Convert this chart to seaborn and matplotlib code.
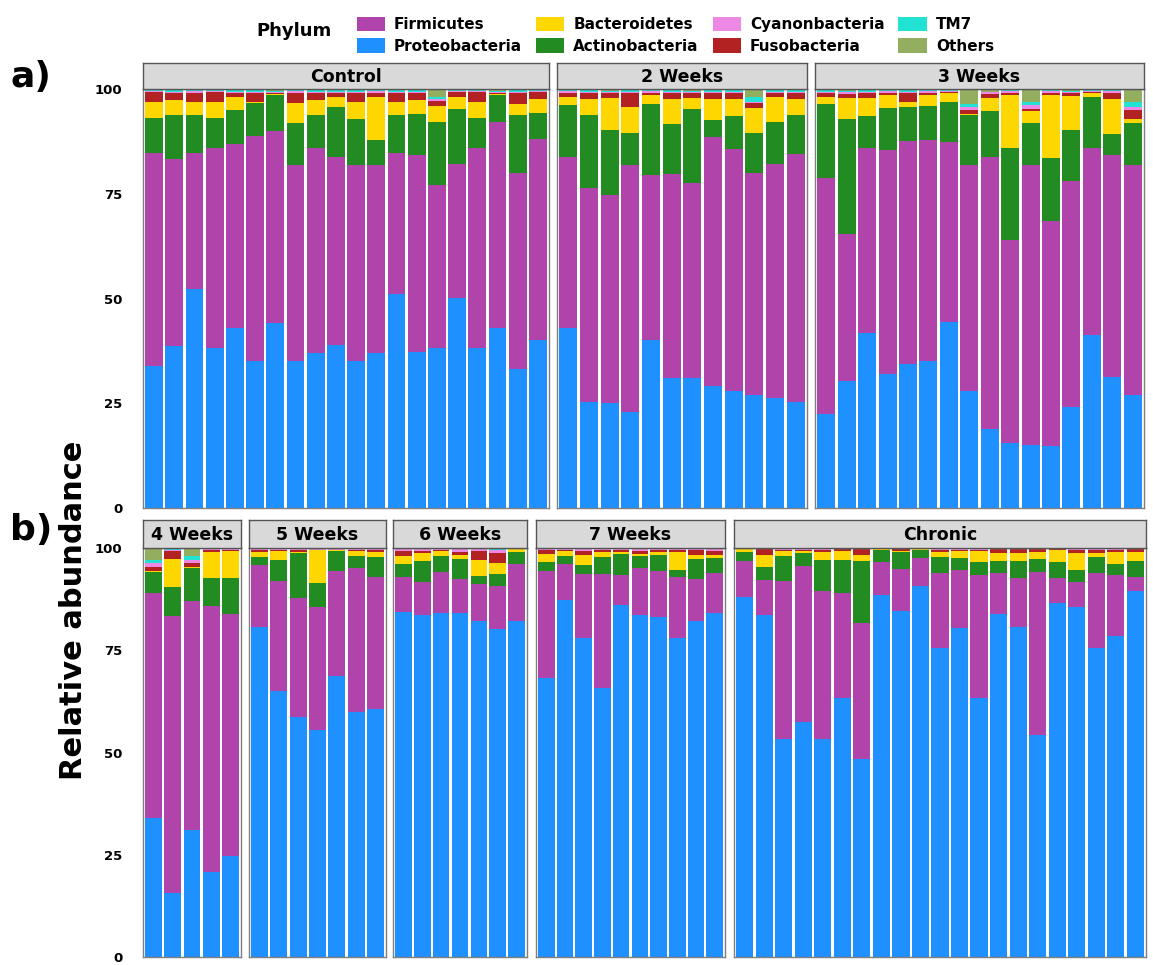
import pandas as pd
import seaborn as sns
import matplotlib.pyplot as plt
from matplotlib.patches import Patch

sns.set_style("white")
plt.rcParams["font.family"] = ["DejaVu Sans"]
plt.rcParams["text.color"] = "black"
plt.rcParams["ytick.color"] = "black"

W, H = 1153, 965

palette = {
    "Firmicutes": "#B044AA",
    "Proteobacteria": "#1E90FF",
    "Bacteroidetes": "#FFD700",
    "Actinobacteria": "#228B22",
    "Cyanonbacteria": "#EE88E6",
    "Fusobacteria": "#B22222",
    "TM7": "#22E2D4",
    "Others": "#93AE5E",
}
legend_order = ["Firmicutes", "Proteobacteria", "Bacteroidetes", "Actinobacteria",
                "Cyanonbacteria", "Fusobacteria", "TM7", "Others"]
# first level ends up on top of the stack in seaborn
stack_order = ["Others", "TM7", "Cyanonbacteria", "Fusobacteria",
               "Bacteroidetes", "Actinobacteria", "Firmicutes", "Proteobacteria"]

control = {
    "Proteobacteria": [34.0, 38.6, 52.2, 38.2, 43.0, 35.0, 44.2, 35.0, 37.0, 39.0, 35.0, 37.0, 51.0, 37.2, 38.2, 50.2, 38.2, 43.0, 33.2, 40.2],
    "Firmicutes": [50.8, 44.8, 32.6, 47.8, 43.9, 53.9, 45.8, 46.8, 49.0, 44.8, 46.8, 44.9, 33.8, 47.0, 38.8, 31.8, 47.8, 49.1, 46.8, 47.8],
    "Actinobacteria": [8.2, 10.4, 9.0, 7.0, 8.1, 7.8, 8.6, 10.2, 7.8, 12.0, 11.1, 6.0, 9.0, 9.8, 15.1, 13.2, 7.0, 6.5, 13.8, 6.2],
    "Bacteroidetes": [4.0, 3.6, 3.1, 4.0, 3.0, 0.2, 0.3, 4.6, 3.6, 2.2, 4.0, 10.2, 3.1, 3.4, 3.8, 3.0, 4.0, 0.3, 2.7, 3.4],
    "Fusobacteria": [2.2, 1.6, 2.2, 2.2, 1.0, 2.1, 0.2, 2.5, 1.6, 1.0, 2.1, 1.0, 2.1, 1.6, 1.2, 1.0, 2.2, 0.2, 2.5, 1.6],
    "Cyanonbacteria": [0.3, 0.4, 0.4, 0.3, 0.4, 0.4, 0.2, 0.4, 0.4, 0.4, 0.4, 0.4, 0.4, 0.4, 0.5, 0.3, 0.3, 0.3, 0.4, 0.3],
    "TM7": [0.2, 0.3, 0.2, 0.2, 0.3, 0.3, 0.2, 0.2, 0.3, 0.3, 0.3, 0.2, 0.3, 0.3, 0.4, 0.2, 0.2, 0.2, 0.3, 0.2],
    "Others": [0.3, 0.3, 0.3, 0.3, 0.3, 0.3, 0.6, 0.3, 0.3, 0.3, 0.3, 0.3, 0.3, 0.3, 2.0, 0.3, 0.3, 0.4, 0.3, 0.3],
}

weeks2 = {
    "Proteobacteria": [43.0, 25.4, 25.0, 22.8, 40.2, 31.0, 31.0, 29.2, 28.0, 27.0, 26.2, 25.4],
    "Firmicutes": [40.8, 51.0, 49.6, 59.0, 39.3, 48.6, 46.6, 59.4, 57.6, 53.0, 56.0, 59.0],
    "Actinobacteria": [12.4, 17.4, 15.6, 7.8, 17.0, 12.0, 17.6, 4.0, 8.0, 9.4, 10.0, 9.4],
    "Bacteroidetes": [1.9, 3.9, 7.6, 6.0, 2.0, 6.0, 2.6, 5.0, 4.0, 6.0, 6.0, 3.9],
    "Fusobacteria": [1.0, 1.3, 1.2, 3.4, 0.6, 1.4, 1.2, 1.4, 1.4, 1.2, 0.8, 1.3],
    "Cyanonbacteria": [0.4, 0.4, 0.4, 0.4, 0.4, 0.4, 0.4, 0.4, 0.4, 0.4, 0.4, 0.4],
    "TM7": [0.2, 0.3, 0.2, 0.3, 0.2, 0.3, 0.2, 0.3, 0.3, 1.2, 0.3, 0.3],
    "Others": [0.3, 0.3, 0.4, 0.3, 0.3, 0.3, 0.4, 0.3, 0.3, 1.8, 0.3, 0.3],
}

weeks3 = {
    "Proteobacteria": [22.4, 30.4, 41.8, 32.0, 34.4, 35.0, 44.4, 28.0, 18.8, 15.4, 15.0, 14.8, 24.0, 41.2, 31.2, 27.0],
    "Firmicutes": [56.4, 35.0, 44.2, 53.4, 53.2, 52.8, 43.0, 53.8, 65.0, 48.5, 66.8, 53.8, 54.0, 44.8, 53.1, 54.8],
    "Actinobacteria": [17.6, 27.5, 7.6, 10.0, 8.2, 8.2, 9.6, 12.0, 11.0, 21.9, 10.0, 14.9, 12.2, 12.0, 5.0, 10.1],
    "Bacteroidetes": [1.6, 5.0, 4.2, 3.2, 1.0, 2.6, 2.1, 0.3, 3.0, 12.8, 3.0, 15.0, 8.2, 1.0, 8.4, 1.0],
    "Fusobacteria": [1.0, 1.0, 1.2, 0.5, 2.2, 0.5, 0.2, 1.0, 1.0, 0.5, 0.5, 0.6, 0.6, 0.2, 1.4, 2.1],
    "Cyanonbacteria": [0.4, 0.4, 0.4, 0.4, 0.4, 0.4, 0.3, 0.6, 0.4, 0.4, 0.8, 0.4, 0.4, 0.3, 0.4, 0.8],
    "TM7": [0.3, 0.3, 0.3, 0.2, 0.3, 0.2, 0.2, 0.8, 0.2, 0.2, 0.8, 0.2, 0.2, 0.2, 0.2, 1.0],
    "Others": [0.3, 0.4, 0.3, 0.3, 0.3, 0.3, 0.2, 3.5, 0.6, 0.3, 3.1, 0.3, 0.4, 0.3, 0.3, 3.2],
}

weeks4 = {
    "Proteobacteria": [33.9, 15.7, 31.0, 20.7, 24.7],
    "Firmicutes": [55.1, 67.7, 56.0, 65.1, 59.2],
    "Actinobacteria": [5.1, 7.1, 8.0, 6.8, 8.8],
    "Bacteroidetes": [0.3, 6.7, 0.4, 6.5, 6.6],
    "Fusobacteria": [1.0, 2.0, 1.0, 0.3, 0.3],
    "Cyanonbacteria": [0.9, 0.3, 0.6, 0.3, 0.2],
    "TM7": [0.8, 0.2, 1.0, 0.2, 0.1],
    "Others": [2.9, 0.3, 2.0, 0.1, 0.1],
}

weeks5 = {
    "Proteobacteria": [80.7, 65.0, 58.8, 55.6, 68.8, 59.9, 60.7],
    "Firmicutes": [15.2, 27.0, 29.0, 30.0, 25.5, 35.3, 32.2],
    "Actinobacteria": [2.0, 5.0, 10.9, 5.9, 4.9, 2.9, 5.0],
    "Bacteroidetes": [1.2, 2.3, 0.4, 7.9, 0.3, 1.1, 1.2],
    "Fusobacteria": [0.3, 0.2, 0.3, 0.2, 0.1, 0.2, 0.3],
    "Cyanonbacteria": [0.3, 0.3, 0.3, 0.2, 0.2, 0.3, 0.3],
    "TM7": [0.1, 0.1, 0.1, 0.1, 0.1, 0.1, 0.1],
    "Others": [0.2, 0.1, 0.2, 0.1, 0.1, 0.2, 0.2],
}

weeks6 = {
    "Proteobacteria": [84.3, 83.7, 84.1, 84.1, 82.2, 80.1, 82.2],
    "Firmicutes": [8.7, 8.1, 10.0, 8.2, 9.1, 10.7, 13.9],
    "Actinobacteria": [3.1, 4.9, 3.9, 4.9, 1.8, 2.8, 3.0],
    "Bacteroidetes": [2.0, 2.0, 1.2, 1.2, 3.9, 2.8, 0.6],
    "Fusobacteria": [1.2, 0.6, 0.2, 0.7, 2.3, 2.4, 0.1],
    "Cyanonbacteria": [0.4, 0.4, 0.4, 0.6, 0.4, 0.8, 0.1],
    "TM7": [0.1, 0.1, 0.1, 0.1, 0.1, 0.2, 0.1],
    "Others": [0.2, 0.2, 0.1, 0.2, 0.2, 0.2, 0.0],
}

weeks7 = {
    "Proteobacteria": [68.3, 87.2, 77.9, 65.7, 86.0, 83.5, 83.1, 78.1, 82.2, 84.1],
    "Firmicutes": [26.0, 8.9, 15.8, 28.0, 7.5, 11.6, 11.2, 14.7, 10.1, 9.8],
    "Actinobacteria": [2.2, 2.0, 2.2, 4.1, 5.0, 3.0, 3.9, 1.8, 4.9, 3.6],
    "Bacteroidetes": [2.0, 1.1, 2.4, 1.2, 0.6, 0.4, 0.8, 4.5, 1.0, 0.8],
    "Fusobacteria": [1.0, 0.3, 1.0, 0.5, 0.3, 0.8, 0.4, 0.4, 1.2, 1.0],
    "Cyanonbacteria": [0.3, 0.3, 0.4, 0.3, 0.3, 0.4, 0.3, 0.3, 0.3, 0.4],
    "TM7": [0.1, 0.1, 0.1, 0.1, 0.1, 0.1, 0.1, 0.1, 0.1, 0.1],
    "Others": [0.1, 0.1, 0.2, 0.1, 0.2, 0.2, 0.2, 0.1, 0.2, 0.2],
}

chronic = {
    "Proteobacteria": [88.0, 83.5, 53.4, 57.4, 53.4, 63.4, 48.4, 88.4, 84.5, 90.7, 75.6, 80.5, 63.4, 83.9, 80.7, 54.3, 86.6, 85.6, 75.6, 78.5, 89.6],
    "Firmicutes": [8.9, 8.7, 38.5, 38.3, 36.2, 25.5, 33.3, 8.1, 10.3, 6.8, 18.2, 14.0, 30.0, 9.9, 11.9, 39.8, 6.0, 6.2, 18.2, 14.8, 3.2],
    "Actinobacteria": [2.2, 3.1, 6.1, 3.0, 7.5, 8.1, 15.1, 3.0, 4.1, 2.0, 4.0, 3.0, 3.1, 3.1, 4.1, 3.1, 3.9, 2.8, 4.0, 2.9, 4.1],
    "Bacteroidetes": [0.6, 3.0, 1.2, 0.6, 2.0, 2.2, 1.4, 0.2, 0.4, 0.2, 1.1, 1.7, 2.7, 1.8, 2.1, 1.8, 3.0, 4.1, 0.9, 2.8, 2.0],
    "Fusobacteria": [0.1, 1.5, 0.2, 0.2, 0.5, 0.5, 1.6, 0.1, 0.4, 0.1, 0.6, 0.4, 0.4, 1.1, 1.0, 0.8, 0.2, 0.8, 0.8, 0.4, 0.8],
    "Cyanonbacteria": [0.1, 0.1, 0.3, 0.3, 0.2, 0.1, 0.1, 0.1, 0.1, 0.1, 0.3, 0.2, 0.2, 0.1, 0.1, 0.1, 0.2, 0.3, 0.3, 0.3, 0.1],
    "TM7": [0.05, 0.05, 0.1, 0.1, 0.1, 0.1, 0.05, 0.05, 0.1, 0.05, 0.1, 0.1, 0.1, 0.05, 0.05, 0.05, 0.05, 0.1, 0.1, 0.1, 0.1],
    "Others": [0.05, 0.05, 0.2, 0.1, 0.1, 0.1, 0.05, 0.05, 0.1, 0.05, 0.1, 0.1, 0.1, 0.05, 0.05, 0.05, 0.05, 0.1, 0.1, 0.2, 0.1],
}

# panel layout in pixels: (title, data, left, right)
row_a = [("Control", control, 143, 549), ("2 Weeks", weeks2, 557, 807), ("3 Weeks", weeks3, 815, 1144)]
row_b = [("4 Weeks", weeks4, 143, 241), ("5 Weeks", weeks5, 249, 386), ("6 Weeks", weeks6, 393, 527),
         ("7 Weeks", weeks7, 536, 725), ("Chronic", chronic, 734, 1146)]


def rect(x0, y0, x1, y1):
    return [x0 / W, 1 - y1 / H, (x1 - x0) / W, (y1 - y0) / H]


def long_form(group):
    rows = []
    for ph, vals in group.items():
        for i, v in enumerate(vals):
            rows.append({"sample": i + 1, "phylum": ph, "abundance": v})
    return pd.DataFrame(rows)


fig = plt.figure(figsize=(W / 100, H / 100), dpi=100)


def draw_row(panels, strip_top, panel_top, panel_bottom):
    for k, (title, group, x0, x1) in enumerate(panels):
        df = long_form(group)
        n = len(group["Proteobacteria"])
        ax = fig.add_axes(rect(x0, panel_top, x1, panel_bottom))
        sns.histplot(data=df, x="sample", weights="abundance", hue="phylum",
                     hue_order=stack_order, palette=palette, multiple="stack",
                     discrete=True, shrink=0.88, linewidth=0, alpha=1,
                     legend=False, ax=ax)
        ax.set_xlim(0.45, n + 0.55)
        ax.set_ylim(0, 100)
        ax.set_xticks([])
        ax.set_xlabel("")
        ax.set_ylabel("")
        for s in ax.spines.values():
            s.set_color("#7f7f7f")
            s.set_linewidth(1)
        if k == 0:
            ax.set_yticks([0, 25, 50, 75, 100])
            ax.set_yticklabels(["0", "25", "50", "75", "100"], fontsize=9.5, fontweight="bold")
            ax.tick_params(axis="y", length=3, pad=12, color="#333333")
        else:
            ax.set_yticks([])

        sax = fig.add_axes(rect(x0, strip_top, x1, panel_top))
        sax.set_facecolor("#D9D9D9")
        sax.set_xticks([])
        sax.set_yticks([])
        for s in sax.spines.values():
            s.set_color("#555555")
            s.set_linewidth(1)
        sax.text(0.5, 0.45, title, ha="center", va="center", fontsize=12.5,
                 fontweight="bold", transform=sax.transAxes)


draw_row(row_a, 63, 89, 508)
draw_row(row_b, 520, 548, 957)

fig.text(31 / W, 1 - 77 / H, "a)", fontsize=26, fontweight="bold", ha="center", va="center")
fig.text(31 / W, 1 - 530 / H, "b)", fontsize=26, fontweight="bold", ha="center", va="center")
fig.text(73 / W, 1 - 610 / H, "Relative abundance", fontsize=22, fontweight="bold",
         rotation=90, ha="center", va="center")
fig.text(294 / W, 1 - 31 / H, "Phylum", fontsize=13, fontweight="bold", ha="center", va="center")

handles = [Patch(facecolor=palette[p], edgecolor="none") for p in legend_order]
fig.legend(handles, legend_order, ncol=4, loc="upper left",
           bbox_to_anchor=(349 / W, 1 - 9 / H), frameon=False, borderpad=0,
           prop={"size": 11, "weight": "bold"}, handlelength=1.85, handleheight=1.1,
           handletextpad=0.6, labelspacing=0.4, columnspacing=0.9)

fig.savefig("out.png", dpi=100)
